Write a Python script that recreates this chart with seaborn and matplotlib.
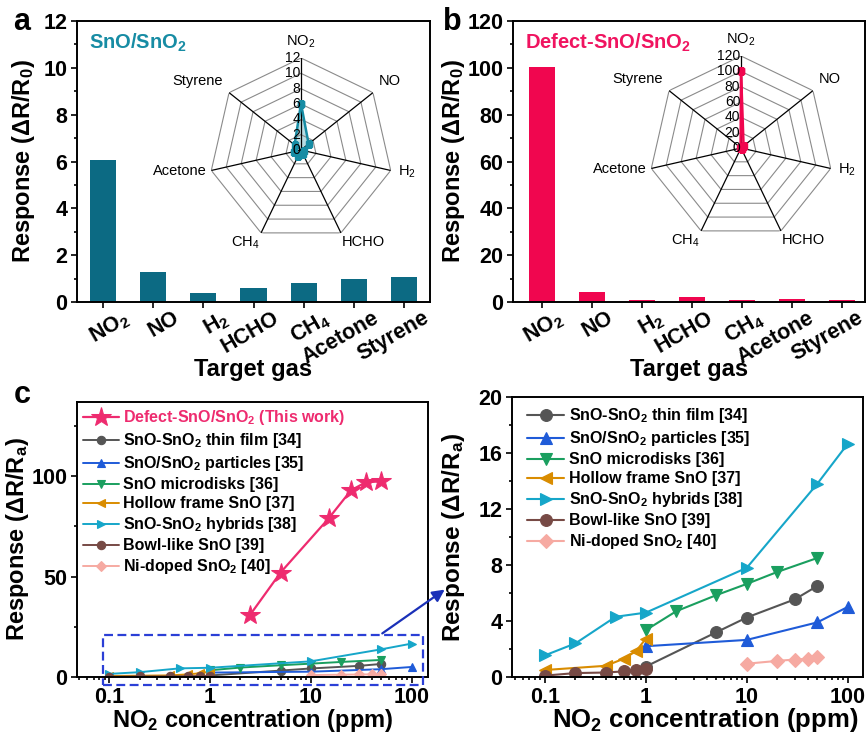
import numpy as np
import pandas as pd
import matplotlib
matplotlib.use("Agg")
import matplotlib.pyplot as plt
import matplotlib.transforms as mtransforms
import seaborn as sns
from matplotlib.ticker import MultipleLocator, LogLocator, NullFormatter
from matplotlib.patches import Rectangle, FancyArrowPatch

# ---------------- data ----------------
gases = ["NO$_2$", "NO", "H$_2$", "HCHO", "CH$_4$", "Acetone", "Styrene"]
resp_sno = [6.05, 1.27, 0.38, 0.58, 0.80, 0.98, 1.07]
resp_defect = [100.5, 4.3, 0.7, 2.0, 0.7, 1.1, 0.7]

radar_ticks_a = [0, 2, 4, 6, 8, 10, 12]
radar_ticks_b = [0, 20, 40, 60, 80, 100, 120]

defect_x = [2.5, 5, 15, 25, 35, 50]
defect_y = [31, 52, 79, 93, 97, 97.5]
thin_x = [1, 5, 10, 30, 50]
thin_y = [0.75, 3.2, 4.25, 5.55, 6.5]
part_x = [1, 10, 50, 100]
part_y = [2.2, 2.65, 3.9, 5.0]
disk_x = [1, 2, 5, 10, 20, 50]
disk_y = [3.35, 4.7, 5.85, 6.65, 7.5, 8.5]
hollow_x = [0.1, 0.4, 0.6, 0.8, 1]
hollow_y = [0.5, 0.8, 1.3, 1.85, 2.75]
hybrid_x = [0.1, 0.2, 0.5, 1, 10, 50, 100]
hybrid_y = [1.55, 2.4, 4.3, 4.6, 7.8, 13.8, 16.65]
bowl_x = [0.1, 0.2, 0.4, 0.6, 0.8, 1]
bowl_y = [0.1, 0.28, 0.32, 0.4, 0.48, 0.6]
ni_x = [10, 20, 30, 40, 50]
ni_y = [0.95, 1.15, 1.25, 1.3, 1.45]

conc_ticks = [0.1, 1, 10, 100]
conc_labels = ["0.1", "1", "10", "100"]

# ---------------- style ----------------
sns.set_theme(style="ticks")
plt.rcParams["font.family"] = ["Liberation Sans", "DejaVu Sans"]
plt.rcParams["font.weight"] = "bold"
plt.rcParams["axes.labelweight"] = "bold"
plt.rcParams["mathtext.default"] = "regular"
plt.rcParams["axes.edgecolor"] = "black"
plt.rcParams["axes.linewidth"] = 1.4
plt.rcParams["text.color"] = "black"
plt.rcParams["axes.labelcolor"] = "black"
plt.rcParams["xtick.color"] = "black"
plt.rcParams["ytick.color"] = "black"

TEAL_BAR = "#0c6a83"
TEAL = "#178ca4"
PINK_BAR = "#f0064f"
PINK_TXT = "#f01460"
DEFECT = "#ee2b6f"

W, H = 867, 733
fig = plt.figure(figsize=(W / 100, H / 100), dpi=100)


def px_rect(l, t, r, b):
    return [l / W, 1 - b / H, (r - l) / W, (b - t) / H]


def frame(ax, labelsize):
    for s in ax.spines.values():
        s.set_visible(True)
        s.set_linewidth(1.4)
        s.set_color("black")
    ax.tick_params(which="both", direction="out", top=False, right=False,
                   width=1.2, labelsize=labelsize, pad=2.5)
    ax.tick_params(which="major", length=4.5)
    ax.tick_params(which="minor", length=2.5)


# ---------------- bar panels ----------------
def bar_panel(rect, values, color, ymax, major, title, title_color, xlim,
              letter, letter_xy, ylab_x, lab_dx):
    ax = fig.add_axes(rect)
    sns.barplot(x=gases, y=values, order=gases, color=color, saturation=1,
                width=0.52, edgecolor=color, linewidth=0, ax=ax)
    ax.set_xlim(*xlim)
    ax.set_ylim(0, ymax)
    ax.yaxis.set_major_locator(MultipleLocator(major))
    ax.yaxis.set_minor_locator(MultipleLocator(major / 2))
    frame(ax, 15.5)
    ax.tick_params(axis="x", labelsize=15.5)
    ax.set_ylabel("Response (ΔR/R$_0$)", fontsize=17)
    ax.yaxis.set_label_coords(ylab_x, 0.5)
    ax.set_xlabel("Target gas", fontsize=17)
    ax.xaxis.set_label_coords(0.5, -0.2)
    ax.xaxis.label.set_va("top")
    off = mtransforms.ScaledTranslation(lab_dx / 72, 3 / 72, fig.dpi_scale_trans)
    for lab in ax.get_xticklabels():
        lab.set_rotation(30)
        lab.set_ha("right")
        lab.set_va("top")
        lab.set_rotation_mode("anchor")
        lab.set_transform(lab.get_transform() + off)
    ax.text(0.035, 0.922, title, transform=ax.transAxes, color=title_color,
            fontsize=14.5, fontweight="bold", ha="left", va="center")
    fig.text(letter_xy[0] / W, 1 - letter_xy[1] / H, letter, fontsize=22,
             fontweight="bold", ha="center", va="center")
    return ax


def radar(center, R, values, ticks, color, fill_alpha):
    cx, cy = center
    ax = fig.add_axes(px_rect(cx - R, cy - R, cx + R, cy + R), projection="polar")
    ax.set_theta_offset(np.pi / 2)
    ax.set_theta_direction(-1)
    rmax = ticks[-1]
    ax.set_ylim(0, rmax)
    ax.grid(False)
    ax.spines["polar"].set_visible(False)
    ax.set_xticks([])
    ax.set_yticks([])
    ax.patch.set_alpha(0)
    n = len(gases)
    ang = np.linspace(0, 2 * np.pi, n, endpoint=False)
    ang_c = np.append(ang, ang[0])
    for t in ticks[1:]:
        ax.plot(ang_c, [t] * (n + 1), color="#8a8a8a", lw=0.8)
    for a in ang:
        ax.plot([a, a], [0, rmax], color="black", lw=0.9)
    vals = np.append(values, values[0])
    ax.fill(ang_c, vals, color=color, alpha=fill_alpha, lw=0)
    ax.plot(ang_c, vals, color=color, lw=1.8, marker="s", ms=4.5)
    for t in ticks:
        ax.annotate(str(t), xy=(0, t), xytext=(-0.5, 0), textcoords="offset points",
                    ha="right", va="center", fontsize=10, fontweight="normal")
    u = rmax / 12.0
    spots = [(13.1, "center", "bottom"), (13.0, "left", "bottom"), (13.0, "left", "center"),
             (12.3, "left", "top"), (12.3, "right", "top"), (12.6, "right", "center"),
             (13.0, "right", "bottom")]
    for a, g, (r, ha, va) in zip(ang, gases, spots):
        ax.text(a, r * u, g, ha=ha, va=va, fontsize=10.5, fontweight="normal")
    return ax


ax_a = bar_panel(px_rect(77, 21, 430, 302), resp_sno, TEAL_BAR, 12, 2,
                 "SnO/SnO$_2$", TEAL, (-0.52, 6.52), "a", (22, 22), -0.113, 13.5)
ax_b = bar_panel(px_rect(513, 21, 865, 302), resp_defect, PINK_BAR, 120, 20,
                 "Defect-SnO/SnO$_2$", PINK_TXT, (-0.58, 6.46), "b", (452, 22), -0.131, 10.5)

radar((301, 150), 92, resp_sno, radar_ticks_a, TEAL, 0.3)
radar((741, 148), 92, resp_defect, radar_ticks_b, PINK_BAR, 0.3)

# ---------------- concentration panels ----------------
series = [
    ("SnO-SnO$_2$ thin film [34]", thin_x, thin_y, "#555555", "o"),
    ("SnO/SnO$_2$ particles [35]", part_x, part_y, "#1f5bd8", "^"),
    ("SnO microdisks [36]", disk_x, disk_y, "#1a9f5f", "v"),
    ("Hollow frame SnO [37]", hollow_x, hollow_y, "#d98c00", "<"),
    ("SnO-SnO$_2$ hybrids [38]", hybrid_x, hybrid_y, "#16a6c9", ">"),
    ("Bowl-like SnO [39]", bowl_x, bowl_y, "#774a45", "o"),
    ("Ni-doped SnO$_2$ [40]", ni_x, ni_y, "#f6aaa2", "D"),
]


def conc_axes(ax, labelsize):
    ax.set_xscale("log")
    ax.set_xticks(conc_ticks, conc_labels)
    ax.xaxis.set_minor_locator(LogLocator(base=10, subs=np.arange(2, 10)))
    ax.xaxis.set_minor_formatter(NullFormatter())
    frame(ax, labelsize)


def draw_series(ax, ms, lw):
    for lab, xs, ys, col, mk in series:
        m = ms * (0.8 if mk == "D" else 1.0)
        sns.lineplot(x=xs, y=ys, ax=ax, color=col, marker=mk, markersize=m,
                     markeredgecolor=col, markeredgewidth=0.8, linewidth=lw,
                     label=lab, sort=False, estimator=None)


ax_c = fig.add_axes(px_rect(77, 402, 428, 677))
sns.lineplot(x=defect_x, y=defect_y, ax=ax_c, color=DEFECT, marker="*", markersize=15,
             markeredgecolor=DEFECT, linewidth=1.6,
             label="Defect-SnO/SnO$_2$ (This work)", sort=False, estimator=None)
draw_series(ax_c, 6, 1.4)
conc_axes(ax_c, 15.5)
ax_c.set_xlim(0.048, 145)
ax_c.set_ylim(0, 137)
ax_c.yaxis.set_major_locator(MultipleLocator(50))
ax_c.yaxis.set_minor_locator(MultipleLocator(25))
ax_c.set_xlabel("NO$_2$ concentration (ppm)", fontsize=17)
ax_c.xaxis.set_label_coords(0.5, -0.11)
ax_c.xaxis.label.set_va("top")
ax_c.set_ylabel("Response (ΔR/R$_a$)", fontsize=17)
ax_c.yaxis.set_label_coords(-0.13, 0.5)
leg_c = ax_c.legend(loc="upper left", bbox_to_anchor=(0.0, 1.0), frameon=False,
                    prop={"weight": "bold", "size": 11.5}, handlelength=2.2,
                    handletextpad=0.3, labelspacing=0.25, borderaxespad=0.2,
                    borderpad=0.2, numpoints=1)
leg_c.get_texts()[0].set_color(DEFECT)
ax_c.add_patch(Rectangle((0.087, -4), 128 - 0.087, 25, fill=False, ls=(0, (4, 2)),
                         lw=1.6, edgecolor="#2b3fd6", clip_on=False, zorder=5))
fig.text(22 / W, 1 - 395 / H, "c", fontsize=22, fontweight="bold", ha="center", va="center")

ax_d = fig.add_axes(px_rect(512, 397, 863, 677))
draw_series(ax_d, 8.5, 1.5)
conc_axes(ax_d, 15.5)
ax_d.set_xlim(0.047, 142)
ax_d.set_ylim(0, 20)
ax_d.yaxis.set_major_locator(MultipleLocator(4))
ax_d.yaxis.set_minor_locator(MultipleLocator(2))
ax_d.set_xlabel("NO$_2$ concentration (ppm)", fontsize=18.5)
ax_d.xaxis.set_label_coords(0.549, -0.105)
ax_d.xaxis.label.set_va("top")
ax_d.set_ylabel("Response (ΔR/R$_a$)", fontsize=17.5)
ax_d.yaxis.set_label_coords(-0.128, 0.5)
ax_d.legend(loc="upper left", bbox_to_anchor=(0.025, 0.99), frameon=False,
            prop={"weight": "bold", "size": 11.5}, handlelength=2.3,
            handletextpad=0.3, labelspacing=0.25, borderaxespad=0.2,
            borderpad=0.2, numpoints=1)

# zoom arrow from the dashed box to the enlarged view
arrow = FancyArrowPatch((380 / W, 1 - 635 / H), (447 / W, 1 - 588 / H),
                        transform=fig.transFigure, arrowstyle="-|>",
                        mutation_scale=18, lw=1.6, color="#1a30b8")
fig.patches.append(arrow)

fig.savefig("out.png", dpi=100)
